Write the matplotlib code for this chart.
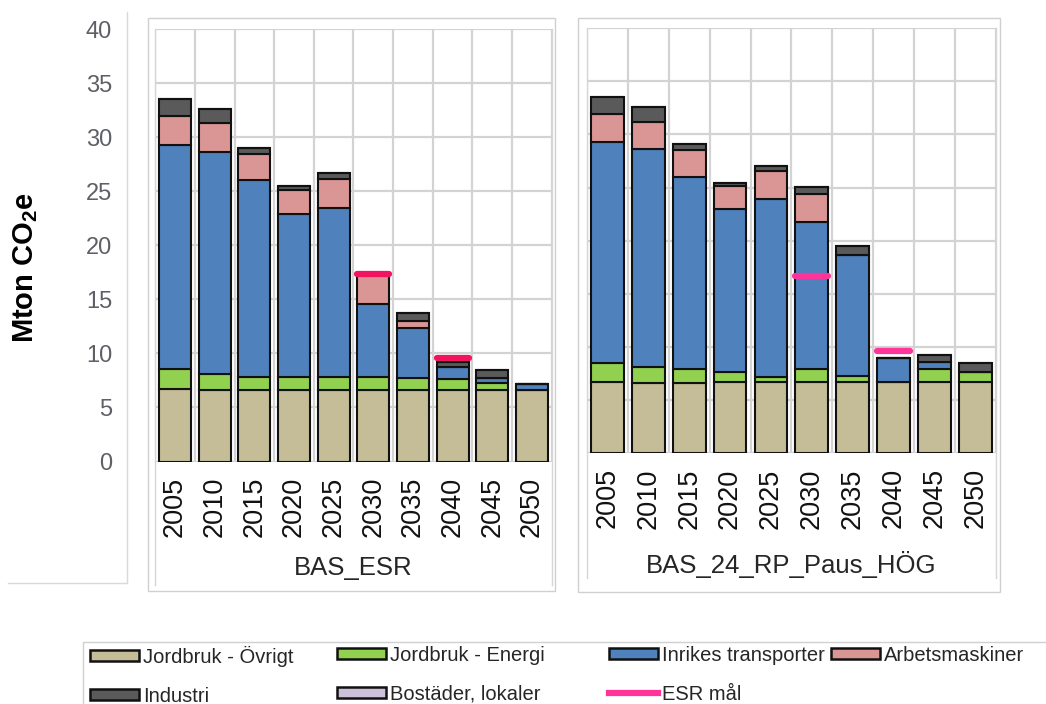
import numpy as np
import matplotlib.pyplot as plt
from matplotlib.patches import Rectangle, Patch
from matplotlib.lines import Line2D

plt.rcParams['font.family'] = ['Liberation Sans', 'DejaVu Sans']
plt.rcParams['mathtext.fontset'] = 'custom'
plt.rcParams['mathtext.rm'] = 'Liberation Sans'
plt.rcParams['mathtext.bf'] = 'Liberation Sans:bold'

years = ['2005', '2010', '2015', '2020', '2025', '2030', '2035', '2040', '2045', '2050']
sectors = ['Jordbruk - Övrigt', 'Jordbruk - Energi', 'Inrikes transporter',
           'Arbetsmaskiner', 'Industri', 'Bostäder, lokaler']
sector_colors = ['#c4bd97', '#92d050', '#4f81bd', '#d99694', '#5a5a5a', '#ccc0da']

# BAS_ESR (Mton CO2e per sector)
esr_ovrigt = np.array([6.75, 6.6, 6.6, 6.6, 6.6, 6.6, 6.6, 6.6, 6.6, 6.65])
esr_energi = np.array([1.8, 1.47, 1.22, 1.22, 1.22, 1.22, 1.16, 1.0, 0.7, 0.0])
esr_transp = np.array([20.7, 20.6, 18.26, 15.06, 15.62, 6.78, 4.56, 1.16, 0.43, 0.55])
esr_arbets = np.array([2.75, 2.62, 2.39, 2.27, 2.7, 2.69, 0.68, 0.0, 0.0, 0.0])
esr_industri = np.array([1.5, 1.3, 0.56, 0.37, 0.53, 0.0, 0.72, 0.46, 0.72, 0.0])
esr_bostader = np.zeros(10)
esr_mal = np.array([np.nan] * 5 + [17.35, np.nan, 9.6, np.nan, np.nan])

# BAS_24_RP_Paus_HÖG
hog_ovrigt = np.array([6.7, 6.55, 6.55, 6.7, 6.7, 6.7, 6.7, 6.7, 6.7, 6.7])
hog_energi = np.array([1.8, 1.55, 1.33, 0.96, 0.46, 1.18, 0.55, 0.0, 1.18, 0.94])
hog_transp = np.array([20.8, 20.57, 18.11, 15.28, 16.72, 13.86, 11.44, 2.28, 0.73, 0.0])
hog_arbets = np.array([2.61, 2.52, 2.52, 2.2, 2.65, 2.68, 0.0, 0.0, 0.0, 0.0])
hog_industri = np.array([1.58, 1.41, 0.63, 0.28, 0.47, 0.63, 0.78, 0.0, 0.6, 0.81])
hog_bostader = np.zeros(10)
hog_mal = np.array([np.nan] * 5 + [16.7, np.nan, 9.6, np.nan, np.nan])

W, H = 1046, 704
fig = plt.figure(figsize=(W / 100, H / 100), dpi=100)


def px_box(x0, y0, x1, y1):
    return [x0 / W, 1 - y1 / H, (x1 - x0) / W, (y1 - y0) / H]


def px_line(x0, y0, x1, y1, color='#d9d9d9'):
    fig.add_artist(Line2D([x0 / W, x1 / W], [1 - y0 / H, 1 - y1 / H],
                          transform=fig.transFigure, color=color, lw=1))


def px_rect(x0, y0, x1, y1, color='#d0d0d0'):
    fig.add_artist(Rectangle((x0 / W, 1 - y1 / H), (x1 - x0) / W, (y1 - y0) / H,
                             transform=fig.transFigure, fill=False,
                             edgecolor=color, lw=1, clip_on=False))


def draw_panel(ax, parts, goal, goal_color, show_y):
    x = np.arange(len(years))
    bottom = np.zeros(len(years))
    for vals, color, name in zip(parts, sector_colors, sectors):
        ax.bar(x, vals, 0.8, bottom=bottom, color=color, edgecolor='#111111',
               linewidth=1.5, label=name, zorder=3)
        bottom = bottom + vals
    for xi, v in zip(x, goal):
        if not np.isnan(v):
            ax.plot([xi - 0.4, xi + 0.4], [v, v], color=goal_color, lw=4.5,
                    solid_capstyle='round', zorder=5)
    ax.set_xlim(-0.5, 9.5)
    ax.set_ylim(0, 40)
    ax.set_yticks(range(0, 41, 5))
    ax.set_xticks(x)
    ax.set_xticklabels(years, rotation=90, fontsize=19.5, color='#111111')
    ax.set_xticks(np.arange(-0.5, 10, 1), minor=True)
    ax.grid(axis='y', color='#d3d3d3', lw=1.6)
    ax.grid(axis='x', which='minor', color='#d3d3d3', lw=1.6)
    ax.set_axisbelow(True)
    ax.tick_params(axis='x', which='both', length=0, pad=11)
    ax.tick_params(axis='y', length=0, pad=31, labelsize=17, labelcolor='#5f6066',
                   labelleft=show_y)
    for s in ax.spines.values():
        s.set_visible(False)


# left axis strip and panel frames
px_line(127.3, 12, 127.3, 583)
px_line(8, 583, 127.3, 583)
px_rect(147.7, 18, 555, 591)
px_rect(578, 18, 1000, 591.7)
px_line(155.2, 29, 155.2, 585, '#d6d6d6')
px_line(551.8, 29, 551.8, 585, '#d6d6d6')
px_line(587.1, 28.3, 587.1, 578, '#d6d6d6')
px_line(995.7, 28.3, 995.7, 578, '#d6d6d6')

ax1 = fig.add_axes(px_box(155.2, 29, 551.8, 461.5))
draw_panel(ax1, [esr_ovrigt, esr_energi, esr_transp, esr_arbets, esr_industri, esr_bostader],
           esr_mal, '#f2145f', True)
ax2 = fig.add_axes(px_box(587.1, 28.3, 995.7, 453))
draw_panel(ax2, [hog_ovrigt, hog_energi, hog_transp, hog_arbets, hog_industri, hog_bostader],
           hog_mal, '#ff3399', False)

fig.text(353 / W, 1 - 568 / H, 'BAS_ESR', ha='center', va='center', fontsize=18.5, color='#262626')
fig.text(791 / W, 1 - 565 / H, 'BAS_24_RP_Paus_HÖG', ha='center', va='center', fontsize=18.5,
         color='#262626')
fig.text(26 / W, 1 - 268 / H, r'Mton CO$_\mathbf{2}$e', rotation=90, ha='center', va='center',
         fontsize=21, fontweight='bold', color='black')

# legend, one block per column
px_rect(83.3, 641.7, 1060, 720, '#d0d0d0')
handles = [Patch(facecolor=c, edgecolor='#111111', lw=1.8) for c in sector_colors]
handles.append(Line2D([], [], color='#ff3399', lw=4.5))
labels = sectors + ['ESR mål']
columns = [(89.5, [0, 4]), (337, [1, 5]), (609, [2, 6]), (831, [3])]
for xpos, idx in columns:
    fig.legend([handles[i] for i in idx], [labels[i] for i in idx],
               loc='upper left', bbox_to_anchor=(xpos / W, 1 - 646 / H),
               frameon=False, fontsize=14.5, borderpad=0, borderaxespad=0,
               handlelength=2.45, handleheight=0.45, handletextpad=0.2,
               labelspacing=0.98, labelcolor='#262626')

fig.savefig('out.png', dpi=100, facecolor='white')
